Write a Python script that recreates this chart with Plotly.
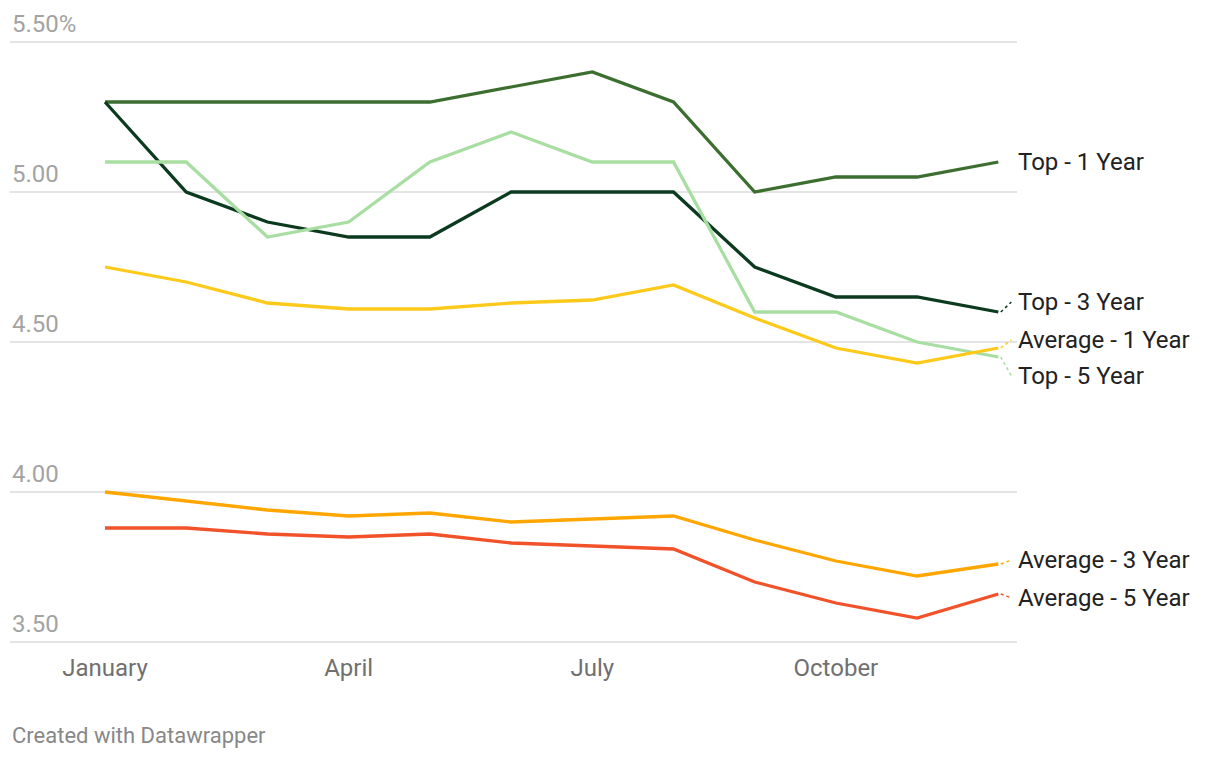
import plotly.graph_objects as go

months = ["January", "February", "March", "April", "May", "June",
          "July", "August", "September", "October", "November", "December"]
series_names = ["Top - 1 Year", "Top - 3 Year", "Top - 5 Year",
                "Average - 1 Year", "Average - 3 Year", "Average - 5 Year"]
top_1 = [5.30, 5.30, 5.30, 5.30, 5.30, 5.35, 5.40, 5.30, 5.00, 5.05, 5.05, 5.10]
top_3 = [5.30, 5.00, 4.90, 4.85, 4.85, 5.00, 5.00, 5.00, 4.75, 4.65, 4.65, 4.60]
top_5 = [5.10, 5.10, 4.85, 4.90, 5.10, 5.20, 5.10, 5.10, 4.60, 4.60, 4.50, 4.45]
avg_1 = [4.75, 4.70, 4.63, 4.61, 4.61, 4.63, 4.64, 4.69, 4.58, 4.48, 4.43, 4.48]
avg_3 = [4.00, 3.97, 3.94, 3.92, 3.93, 3.90, 3.91, 3.92, 3.84, 3.77, 3.72, 3.76]
avg_5 = [3.88, 3.88, 3.86, 3.85, 3.86, 3.83, 3.82, 3.81, 3.70, 3.63, 3.58, 3.66]
y_ticks = [3.5, 4.0, 4.5, 5.0, 5.5]
y_tick_labels = ["3.50", "4.00", "4.50", "5.00", "5.50%"]
x_tick_idx = [0, 3, 6, 9]

colors = ["#3b6e2f", "#0b3a1f", "#a9dea2", "#fdca1c", "#ffa600", "#f1522a"]
series_vals = [top_1, top_3, top_5, avg_1, avg_3, avg_5]
# label vertical placement (to avoid overlaps), in data units
label_pos = [5.10, 4.633, 4.387, 4.507, 3.773, 3.647]

x = list(range(len(months)))
fig = go.Figure()
for i, (name, vals) in enumerate(zip(series_names, series_vals)):
    fig.add_trace(go.Scatter(x=x, y=vals, mode="lines", name=name,
                             line=dict(color=colors[i], width=3.3),
                             hoverinfo="skip"))

annotations = []
shapes = []
for i, (name, vals) in enumerate(zip(series_names, series_vals)):
    ly = label_pos[i]
    annotations.append(dict(x=x[-1], y=ly, xref="x", yref="y", text=name,
                            showarrow=False, xanchor="left", yanchor="middle",
                            xshift=18, font=dict(family="Roboto", size=24, color="#222222")))
    if abs(ly - vals[-1]) > 0.01:
        shapes.append(dict(type="line", xref="x", yref="y",
                           x0=x[-1] + 0.03, y0=vals[-1], x1=x[-1] + 0.16, y1=ly,
                           line=dict(color=colors[i], width=1.5, dash="dot")))

for v, t in zip(y_ticks, y_tick_labels):
    annotations.append(dict(x=0, y=v, xref="paper", yref="y", text=t, showarrow=False,
                            xanchor="left", yanchor="bottom", yshift=2,
                            font=dict(family="Roboto", size=24, color="#a3a3a3")))

annotations.append(dict(x=0, y=0, xref="paper", yref="paper", text="Created with Datawrapper",
                        showarrow=False, xanchor="left", yanchor="middle", yshift=-90,
                        font=dict(family="Roboto", size=22, color="#888888")))

fig.update_layout(
    width=1220, height=758,
    margin=dict(l=10, r=203, t=39, b=113, pad=0),
    paper_bgcolor="white", plot_bgcolor="white",
    showlegend=False,
    font=dict(family="Roboto"),
    xaxis=dict(range=[-1.17, 11.23], tickmode="array", tickvals=x_tick_idx,
               ticktext=[months[i] for i in x_tick_idx], showgrid=False,
               zeroline=False, showline=False, ticks="", ticklabelstandoff=6,
               tickfont=dict(family="Roboto", size=24, color="#707070"), fixedrange=True),
    yaxis=dict(range=[3.49, 5.51], tickmode="array", tickvals=y_ticks,
               showticklabels=False, showgrid=True, gridcolor="#e4e4e4", gridwidth=1.6,
               zeroline=False, showline=False, fixedrange=True),
    annotations=annotations,
    shapes=shapes,
)

fig.write_html("out.html", config={"displayModeBar": False},
               post_script="document.body.style.margin='0';document.body.style.overflow='hidden';")
